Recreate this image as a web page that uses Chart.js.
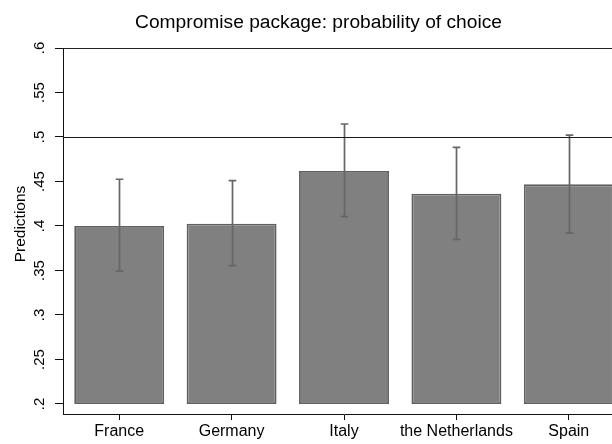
<!DOCTYPE html>
<html>
<head>
<meta charset="utf-8">
<script src="https://cdn.jsdelivr.net/npm/chart.js@4.4.1/dist/chart.umd.min.js"></script>
<style>
  html, body { margin: 0; padding: 0; overflow: hidden; background: #ffffff; }
  #wrap { width: 640px; height: 444px; }
</style>
</head>
<body>
<div id="wrap"><canvas id="chart" width="640" height="444"></canvas></div>
<script>
// Predicted probability of choosing the compromise package, by country
const countries = ['France', 'Germany', 'Italy', 'the Netherlands', 'Spain'];
const predictions = [0.400, 0.4026, 0.4618, 0.4363, 0.4468];
const ciLow = [0.3494, 0.3554, 0.4105, 0.3850, 0.3921];
const ciHigh = [0.4525, 0.4510, 0.5146, 0.4884, 0.5022];
const yTickValues = [0.2, 0.25, 0.3, 0.35, 0.4, 0.45, 0.5, 0.55, 0.6];
const yTickLabels = ['.2', '.25', '.3', '.35', '.4', '.45', '.5', '.55', '.6'];
const barBase = 0.2;
const referenceLevel = 0.5;
const chartTitle = 'Compromise package: probability of choice';
const yAxisTitle = 'Predictions';

const FONT = '"Liberation Sans", Arial, Helvetica, sans-serif';

// Frame, reference line, error bars and rotated texts
const decorations = {
  id: 'decorations',
  afterDatasetsDraw(chart) {
    const ctx = chart.ctx;
    const area = chart.chartArea;
    const y = chart.scales.y;
    const meta = chart.getDatasetMeta(0);

    ctx.save();
    // confidence intervals
    ctx.strokeStyle = '#666666';
    ctx.lineWidth = 1.7;
    meta.data.forEach((bar, i) => {
      const x = Math.round(bar.x) + 0.5;
      const yHi = y.getPixelForValue(ciHigh[i]);
      const yLo = y.getPixelForValue(ciLow[i]);
      ctx.beginPath();
      ctx.moveTo(x, yHi); ctx.lineTo(x, yLo);
      ctx.moveTo(x - 3.8, yHi); ctx.lineTo(x + 3.8, yHi);
      ctx.moveTo(x - 3.8, yLo); ctx.lineTo(x + 3.8, yLo);
      ctx.stroke();
    });

    // horizontal reference line
    const yRef = Math.round(y.getPixelForValue(referenceLevel)) + 0.5;
    ctx.strokeStyle = '#1a1a1a';
    ctx.lineWidth = 1.2;
    ctx.beginPath();
    ctx.moveTo(area.left, yRef); ctx.lineTo(area.right, yRef);
    ctx.stroke();

    // top frame line
    ctx.strokeStyle = '#222222';
    ctx.lineWidth = 1;
    ctx.beginPath();
    ctx.moveTo(area.left, Math.round(area.top) + 0.5);
    ctx.lineTo(area.right, Math.round(area.top) + 0.5);
    ctx.stroke();
    ctx.restore();
  },
  afterDraw(chart) {
    const ctx = chart.ctx;
    const y = chart.scales.y;
    ctx.save();
    ctx.fillStyle = '#000000';

    // chart title
    ctx.font = '19.2px ' + FONT;
    ctx.textAlign = 'center';
    ctx.textBaseline = 'alphabetic';
    ctx.fillText(chartTitle, 318.5, 27.5);

    // rotated y tick labels
    ctx.font = '15px ' + FONT;
    yTickValues.forEach((v, i) => {
      const py = y.getPixelForValue(v);
      ctx.save();
      ctx.translate(43.5, py);
      ctx.rotate(-Math.PI / 2);
      ctx.textAlign = 'center';
      ctx.textBaseline = 'alphabetic';
      ctx.fillText(yTickLabels[i], 0, 0);
      ctx.restore();
    });

    // y axis title
    ctx.font = '15.5px ' + FONT;
    ctx.translate(25, 224);
    ctx.rotate(-Math.PI / 2);
    ctx.textAlign = 'center';
    ctx.textBaseline = 'alphabetic';
    ctx.fillText(yAxisTitle, 0, 0);
    ctx.restore();
  }
};

new Chart(document.getElementById('chart'), {
  type: 'bar',
  data: {
    labels: countries,
    datasets: [{
      label: yAxisTitle,
      data: predictions.map(v => [barBase, v]),
      backgroundColor: '#808080',
      borderColor: '#606060',
      borderWidth: 1.8,
      borderSkipped: false,
      barPercentage: 0.8,
      categoryPercentage: 1.0
    }]
  },
  options: {
    responsive: false,
    animation: false,
    devicePixelRatio: 1,
    layout: { padding: { top: 48, right: 15, left: 0, bottom: 0 } },
    plugins: {
      legend: { display: false },
      title: { display: false },
      tooltip: { enabled: false }
    },
    scales: {
      x: {
        offset: true,
        grid: {
          display: true,
          drawOnChartArea: false,
          drawTicks: true,
          tickLength: 6,
          color: '#111111',
          lineWidth: 1,
          offset: false
        },
        border: { display: true, color: '#111111', width: 1 },
        ticks: {
          color: '#000000',
          font: { family: FONT, size: 16 },
          padding: 2,
          maxRotation: 0,
          autoSkip: false
        },
        afterFit(scale) { scale.height = 30; }
      },
      y: {
        min: 0.18876,
        max: 0.6,
        afterBuildTicks(scale) {
          scale.ticks = yTickValues.map(v => ({ value: v }));
        },
        grid: {
          display: true,
          drawOnChartArea: false,
          drawTicks: true,
          tickLength: 8,
          color: '#111111',
          lineWidth: 1
        },
        border: { display: true, color: '#111111', width: 1 },
        ticks: { display: false },
        afterFit(scale) { scale.width = 63; }
      }
    }
  },
  plugins: [decorations]
});
</script>
</body>
</html>
